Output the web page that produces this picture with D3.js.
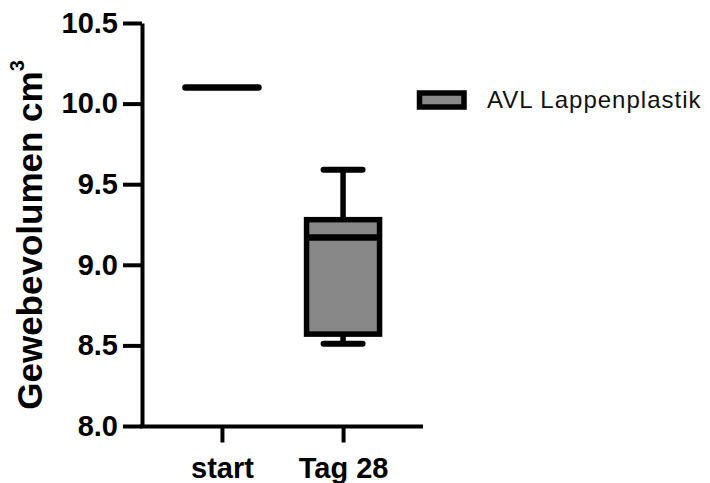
<!DOCTYPE html>
<html>
<head>
<meta charset="utf-8">
<script src="https://cdn.jsdelivr.net/npm/d3@7"></script>
<style>
  body { margin: 0; background: #fff; }
  text { font-family: "Liberation Sans", Arial, sans-serif; }
</style>
</head>
<body>
<script>
// Daten
var groups = ["start", "Tag 28"];
var minVals = [10.1, 8.51];
var q1Vals = [10.1, 8.57];
var medianVals = [10.1, 9.17];
var q3Vals = [10.1, 9.28];
var maxVals = [10.1, 9.59];
var yTicks = [8.0, 8.5, 9.0, 9.5, 10.0, 10.5];
var seriesName = "AVL Lappenplastik";

var width = 710, height = 483;
var boxWidth = 73;
var capWidth = 39;
var boxFill = "#888888";

var svg = d3.select("body")
    .append("svg")
    .attr("width", width)
    .attr("height", height);

var data = groups.map(function(g, i) {
    return { group: g, min: minVals[i], q1: q1Vals[i], median: medianVals[i], q3: q3Vals[i], max: maxVals[i] };
});

// Skalen
var xScale = d3.scalePoint()
    .domain(groups)
    .range([142, 423])
    .padding(0.66);

var yScale = d3.scaleLinear()
    .domain([8, 10.5])
    .range([426, 23]);

// Boxen
var box = svg.selectAll("g.box")
    .data(data)
    .enter()
    .append("g")
    .attr("class", "box");

// Whisker
box.filter(d => d.max > d.min).each(function(d) {
    var g = d3.select(this);
    var cx = xScale(d.group);
    g.append("line")
        .attr("x1", cx).attr("x2", cx)
        .attr("y1", yScale(d.q3)).attr("y2", yScale(d.max))
        .attr("stroke", "#000").attr("stroke-width", 5.5);
    g.append("line")
        .attr("x1", cx).attr("x2", cx)
        .attr("y1", yScale(d.q1)).attr("y2", yScale(d.min))
        .attr("stroke", "#000").attr("stroke-width", 5.5);
    [d.max, d.min].forEach(function(v) {
        g.append("line")
            .attr("x1", cx - capWidth / 2).attr("x2", cx + capWidth / 2)
            .attr("y1", yScale(v)).attr("y2", yScale(v))
            .attr("stroke", "#000").attr("stroke-width", 6)
            .attr("stroke-linecap", "round");
    });
    g.append("rect")
        .attr("x", cx - boxWidth / 2)
        .attr("y", yScale(d.q3))
        .attr("width", boxWidth)
        .attr("height", yScale(d.q1) - yScale(d.q3))
        .attr("fill", boxFill)
        .attr("stroke", "#000")
        .attr("stroke-width", 5.5);
});

// Median
box.append("line")
    .attr("x1", d => xScale(d.group) - boxWidth / 2)
    .attr("x2", d => xScale(d.group) + boxWidth / 2)
    .attr("y1", d => yScale(d.median))
    .attr("y2", d => yScale(d.median))
    .attr("stroke", "#000")
    .attr("stroke-width", 6.5)
    .attr("stroke-linecap", d => d.max > d.min ? "butt" : "round");

// Y-Achse
var yAxis = svg.append("g")
    .attr("transform", "translate(142,0)")
    .call(d3.axisLeft(yScale)
        .tickValues(yTicks)
        .tickFormat(d3.format(".1f"))
        .tickSize(19)
        .tickSizeOuter(0)
        .tickPadding(5));

yAxis.select(".domain").attr("stroke-width", 4);
yAxis.selectAll(".tick line").attr("stroke-width", 4);
yAxis.selectAll(".tick text")
    .attr("fill", "#000")
    .style("font-size", "29px")
    .style("font-weight", "bold");

// X-Achse
var xAxis = svg.append("g")
    .attr("transform", "translate(0,426.5)")
    .call(d3.axisBottom(xScale)
        .tickSize(16)
        .tickSizeOuter(0));

xAxis.select(".domain")
    .attr("d", "M140,0H423")
    .attr("stroke-width", 4);
xAxis.selectAll(".tick line").attr("stroke-width", 4);
xAxis.selectAll(".tick text")
    .attr("y", 51)
    .attr("dy", 0)
    .attr("fill", "#000")
    .style("font-size", "29px")
    .style("font-weight", "bold");

// Achsenbeschriftung
var yLabel = svg.append("text")
    .attr("transform", "translate(42,235) rotate(-90)")
    .attr("text-anchor", "middle")
    .style("font-size", "35px")
    .style("font-weight", "bold")
    .attr("fill", "#000");
yLabel.append("tspan").text("Gewebevolumen cm");
yLabel.append("tspan")
    .attr("dy", -18)
    .style("font-size", "20px")
    .text("3");

// Legende
svg.append("rect")
    .attr("x", 419.5)
    .attr("y", 93)
    .attr("width", 44.5)
    .attr("height", 14)
    .attr("fill", boxFill)
    .attr("stroke", "#000")
    .attr("stroke-width", 5.5);

svg.append("text")
    .attr("x", 487)
    .attr("y", 108.3)
    .style("font-size", "24px")
    .style("letter-spacing", "1px")
    .attr("fill", "#111")
    .text(seriesName);
</script>
</body>
</html>
